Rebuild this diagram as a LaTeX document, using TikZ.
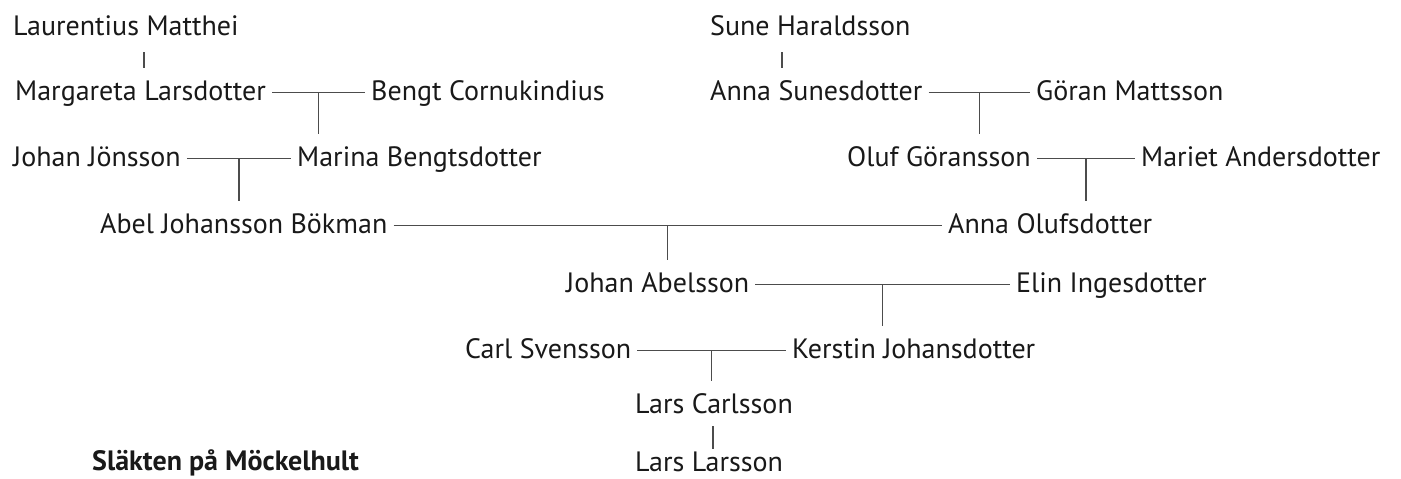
\documentclass[tikz,border=0pt]{standalone}
\usepackage{fontspec}
\setmainfont{PT Sans}
\tikzset{
	nom/.style={anchor=base west, inner xsep=6pt, inner ysep=17pt, text height=15pt, text depth=0pt,
		text=black!90, font=\fontsize{28pt}{32pt}\selectfont},
	titre/.style={nom, inner ysep=1pt, font=\fontsize{28pt}{32pt}\selectfont\bfseries},
	lien/.style={line width=1.1pt, draw=black!70},
}
\begin{document}
\begin{tikzpicture}[x=1pt,y=-1pt]
	%Cadre
	\useasboundingbox (0,0) rectangle (1401,479) ;
	%Personnes
	\path	(7,35)		node [nom]	(laur)		{Laurentius Matthei}	;
	\path	(704,35)	node [nom]	(sune)		{Sune Haraldsson}		;
	\path	(9,100)		node [nom]	(marg)		{Margareta Larsdotter}	;
	\path	(365,100)	node [nom]	(bengt)		{Bengt Cornukindius}	;
	\path	(704,100)	node [nom]	(annas)		{Anna Sunesdotter}		;
	\path	(1030,100)	node [nom]	(goran)		{Göran Mattsson}		;
	\path	(7,166)		node [nom]	(johanj)	{Johan Jönsson}			;
	\path	(291,166)	node [nom]	(marina)	{Marina Bengtsdotter}	;
	\path	(841,166)	node [nom]	(oluf)		{Oluf Göransson}		;
	\path	(1135,166)	node [nom]	(mariet)	{Mariet Andersdotter}	;
	\path	(94,233)	node [nom]	(abel)		{Abel Johansson Bökman}	;
	\path	(942,233)	node [nom]	(annao)		{Anna Olufsdotter}		;
	\path	(560,292)	node [nom]	(johana)	{Johan Abelsson}		;
	\path	(1010,292)	node [nom]	(elin)		{Elin Ingesdotter}		;
	\path	(459,358)	node [nom]	(carl)		{Carl Svensson}			;
	\path	(786,358)	node [nom]	(kerstin)	{Kerstin Johansdotter}	;
	\path	(629,413)	node [nom]	(larsc)		{Lars Carlsson}			;
	\path	(629,471)	node [nom, inner ysep=1pt]	(larsl)	{Lars Larsson}	;
	\path	(86,470)	node [titre]	(titre)	{Släkten på Möckelhult}	;
	%Filiations simples
	\coordinate (x1) at (144,0) ;
	\coordinate (x2) at (782,0) ;
	\coordinate (x3) at (713,0) ;
	\draw [lien]	(x1 |- laur.south)	-- (x1 |- marg.north)	;
	\draw [lien]	(x2 |- sune.south)	-- (x2 |- annas.north)	;
	\draw [lien]	([yshift=4pt]x3 |- larsc.south)	-- ([yshift=6pt]x3 |- larsl.north)	;
	%Couples
	\draw [lien]	(marg.east)		-- coordinate (m1) (bengt.west)		;
	\draw [lien]	(annas.east)	-- coordinate (m2) (goran.west)		;
	\draw [lien]	(johanj.east)	-- coordinate (m3) (marina.west)	;
	\draw [lien]	(oluf.east)		-- coordinate (m4) (mariet.west)	;
	\draw [lien]	(abel.east)		-- coordinate (m5) (annao.west)		;
	\draw [lien]	(johana.east)	-- coordinate (m6) (elin.west)		;
	\draw [lien]	(carl.east)		-- coordinate (m7) (kerstin.west)	;
	%Enfants
	\draw [lien]	(m1) -- (m1 |- marina.north)	;
	\draw [lien]	(m2) -- (m2 |- oluf.north)		;
	\draw [lien]	(m3) -- (m3 |- abel.north)		;
	\draw [lien]	(m4) -- (m4 |- annao.north)		;
	\draw [lien]	(m5) -- (m5 |- johana.north)	;
	\draw [lien]	(m6) -- (m6 |- kerstin.north)	;
	\draw [lien]	(m7) -- (m7 |- larsc.north)		;
\end{tikzpicture}
\end{document}
